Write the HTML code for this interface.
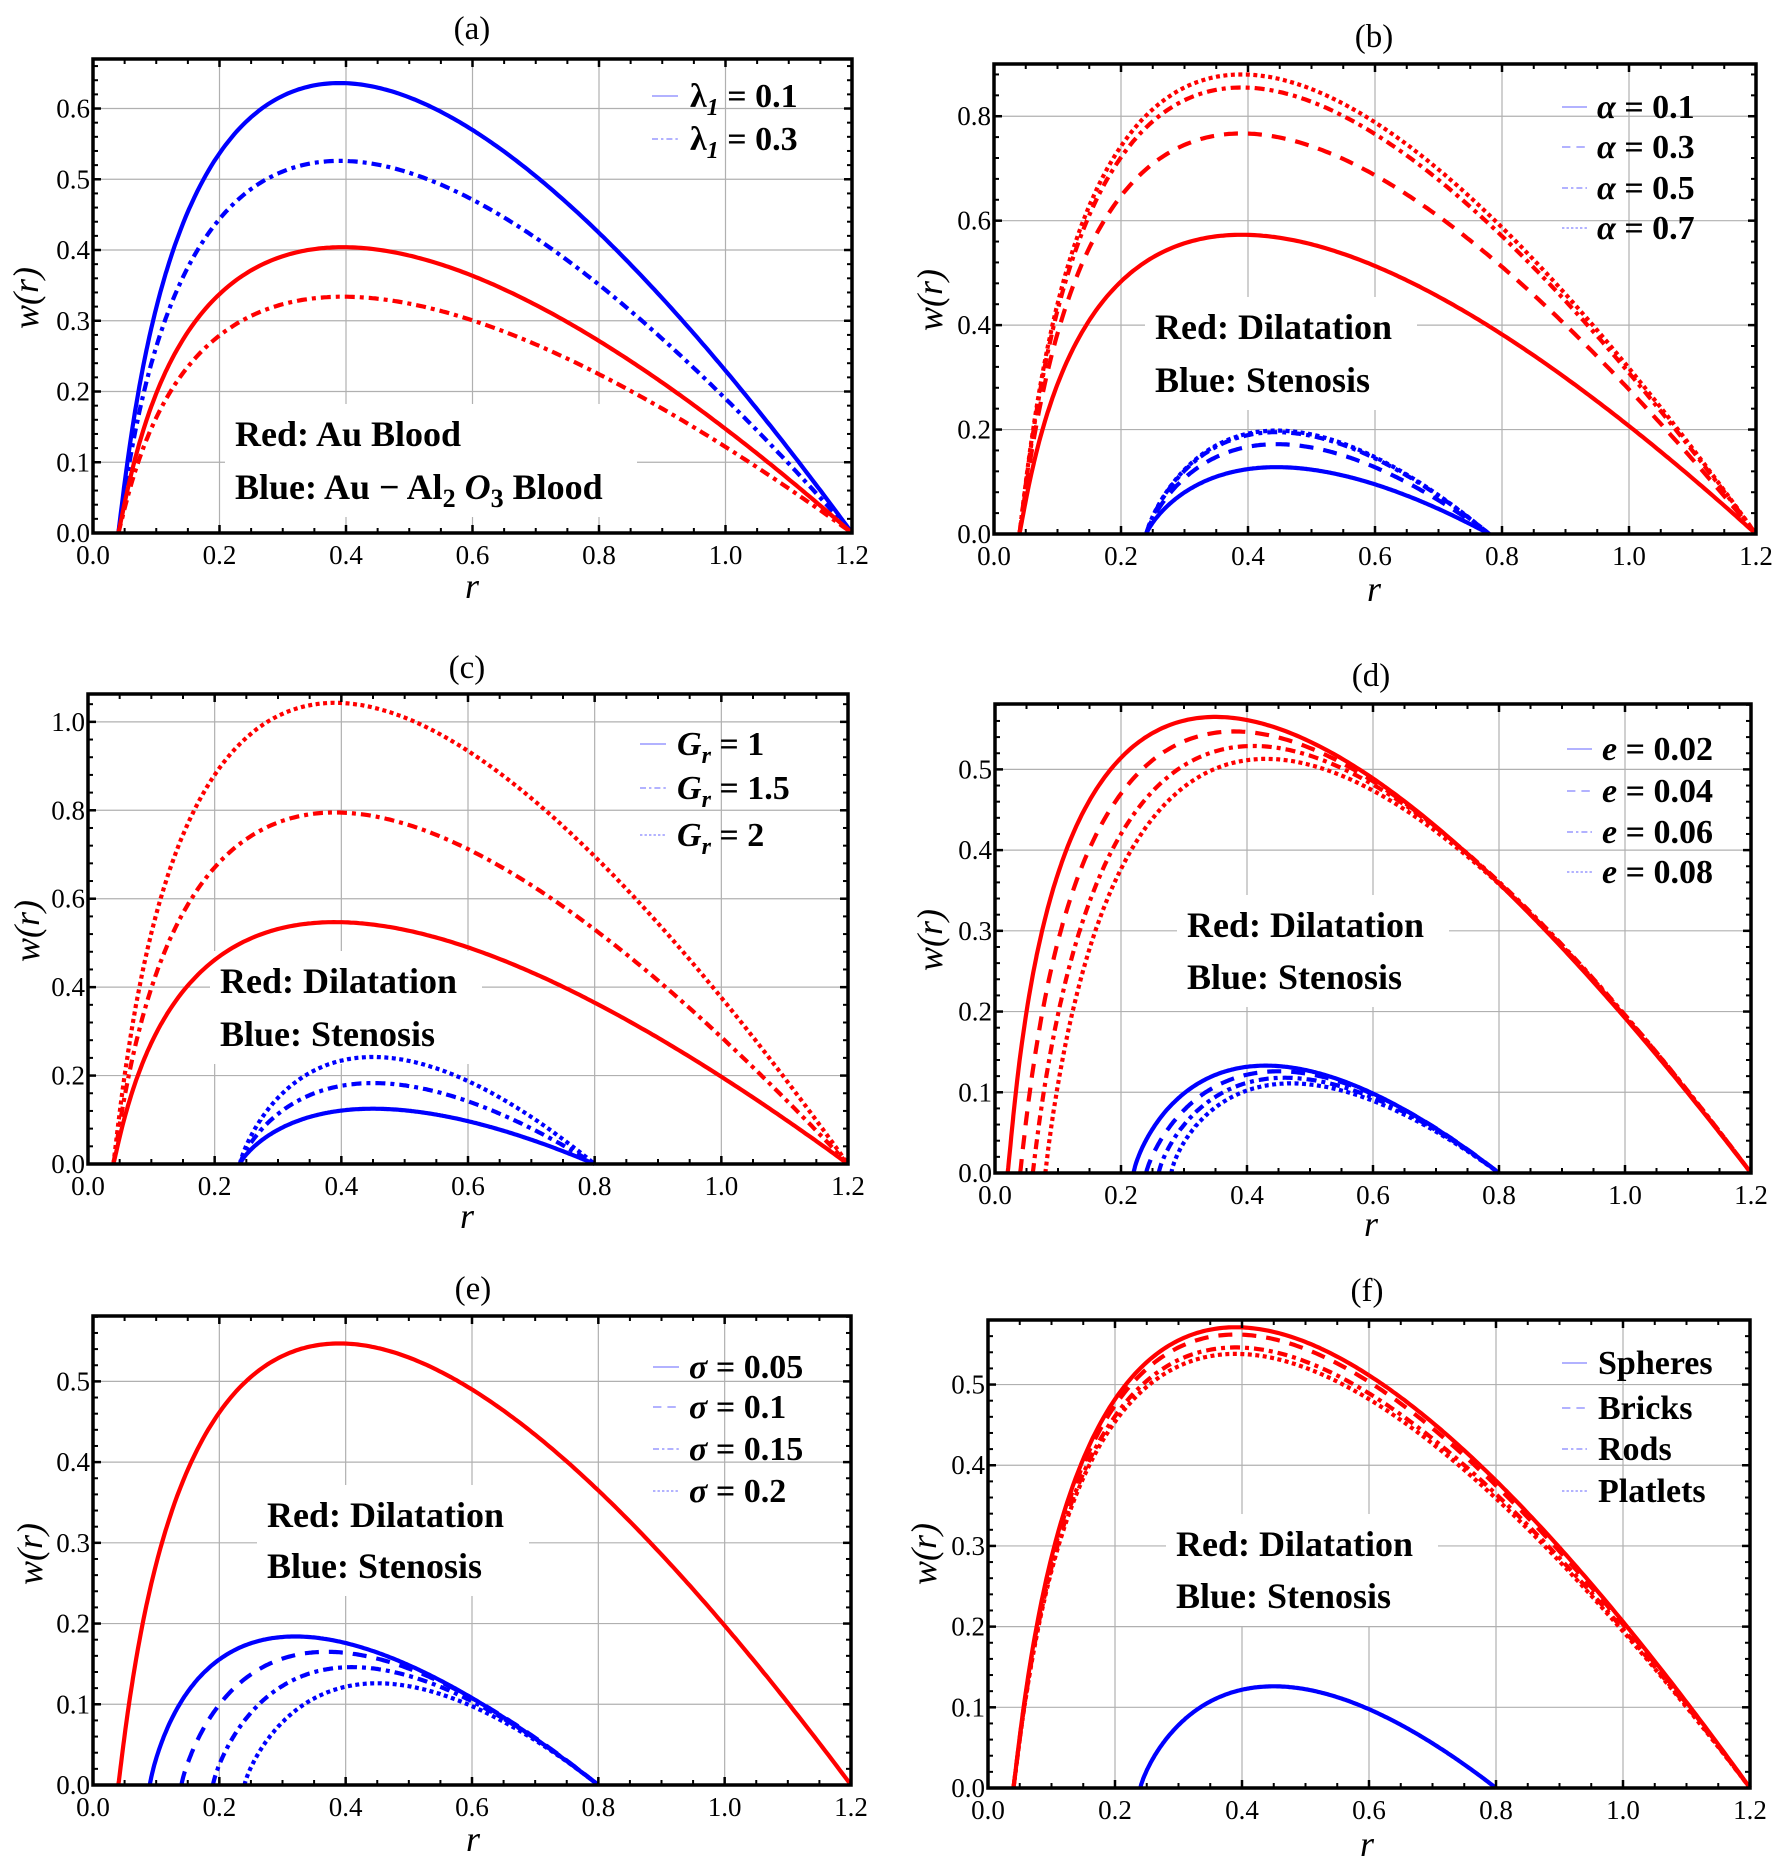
<!DOCTYPE html>
<html><head><meta charset="utf-8"><style>
html,body{margin:0;padding:0;background:#fff;}
svg{display:block;}
svg text{font-family:"Liberation Serif","DejaVu Serif",serif;}
</style></head><body>
<svg id="s" width="1773" height="1866" viewBox="0 0 1773 1866" xmlns="http://www.w3.org/2000/svg" font-family="'Liberation Serif', 'DejaVu Serif', serif"></svg>
<script>
const NS="http://www.w3.org/2000/svg";
const svg=document.getElementById('s');
function el(tag,attrs,parent,txt){if(typeof parent==='string'){txt=parent;parent=null;}const e=document.createElementNS(NS,tag);for(const k in attrs)e.setAttribute(k,attrs[k]);if(tag==='text')e.setAttribute('font-family',"'Liberation Serif', serif");if(txt!==undefined)e.textContent=txt;(parent||svg).appendChild(e);return e;}
const DASH={solid:null,dashed:"14,10",dotdash:"10,5,4,5",dotted:"4,3.5"};
const RED="#ff0000",BLUE="#0000ff";
function curve(r0,r1,P,rp){const q=rp*Math.log(rp/r0)/(r1-rp);const h=r=>Math.pow(Math.max(Math.log(r/r0),0),q)*(r1-r);const hp=h(rp);
 const pts=[];const N=260;for(let i=0;i<=N;i++){const r=r0+(r1-r0)*i/N;pts.push([r,P*h(r)/hp]);}
 const extra=[];for(let i=1;i<20;i++){const r=r0+(r1-r0)*0.004*i*i/20;extra.push([r,P*h(r)/hp]);}
 return [pts[0]].concat(extra).concat(pts.slice(1)).sort((a,b)=>a[0]-b[0]);}
function panel(p){
 const {L,R,T,B,ymax,yt}=p;
 const X=x=>L+(R-L)*x/1.2, Y=y=>B-(B-T)*y/ymax;
 for(let x=0.2;x<1.19;x+=0.2)el('line',{x1:X(x),x2:X(x),y1:T,y2:B,stroke:"#b0b0b0","stroke-width":1.2});
 for(const y of yt){if(y>0)el('line',{x1:L,x2:R,y1:Y(y),y2:Y(y),stroke:"#b0b0b0","stroke-width":1.2});}
 if(p.lab){const l=p.lab;el('rect',{x:l.x-10,y:l.y1-30,width:l.w+30,height:l.y2-l.y1+60,fill:"#fff"});}
 const cp=el('clipPath',{id:"c"+p.id});el('rect',{x:L-3,y:T,width:R-L+6,height:B-T+3},cp);
 const g=el('g',{"clip-path":"url(#c"+p.id+")"});
 for(const c of p.curves){const pts=curve(c[0],c[1],c[2],c[3]);
  const d="M"+pts.map(q=>X(q[0]).toFixed(1)+","+Y(q[1]).toFixed(1)).join("L");
  const a={d:d,fill:"none",stroke:c[4],"stroke-width":4.2};if(DASH[c[5]])a["stroke-dasharray"]=DASH[c[5]];el('path',a,g);}
 el('rect',{x:L,y:T,width:R-L,height:B-T,fill:"none",stroke:"#000","stroke-width":3.5});
 for(let i=0;i<=24;i++){const x=X(i*0.05);const maj=i%4==0;const len=maj?8:5;
  el('line',{x1:x,x2:x,y1:B,y2:B-len,stroke:"#000","stroke-width":maj?2.5:2});el('line',{x1:x,x2:x,y1:T,y2:T+len,stroke:"#000","stroke-width":maj?2.5:2});}
 const step=yt[1]-yt[0];const ms=step/5;
 for(let y=0;y<=ymax+1e-9;y+=ms){const yy=Y(y);const maj=Math.abs(y/step-Math.round(y/step))<1e-6;const len=maj?8:5;
  el('line',{x1:L,x2:L+len,y1:yy,y2:yy,stroke:"#000","stroke-width":maj?2.5:2});el('line',{x1:R,x2:R-len,y1:yy,y2:yy,stroke:"#000","stroke-width":maj?2.5:2});}
 for(let i=0;i<=6;i++){el('text',{x:X(i*0.2),y:B+31,"text-anchor":"middle","font-size":27},null,(i*0.2).toFixed(1));}
 for(const y of yt){el('text',{x:L-3,y:Y(y)+9,"text-anchor":"end","font-size":27},null,y.toFixed(1));}
 el('text',{x:p.title[0],y:p.title[1]+11,"text-anchor":"middle","font-size":33},null,p.tt);
 el('text',{x:p.rl[0],y:p.rl[1]+11,"text-anchor":"middle","font-size":36,"font-style":"italic"},null,"r");
 el('text',{x:p.yl[0]+11,y:p.yl[1],"text-anchor":"middle","font-size":36,"font-style":"italic",transform:"rotate(-90 "+(p.yl[0]+11)+" "+p.yl[1]+")"},null,"w(r)");
 p.leg.rows.forEach((row,i)=>{const y=p.leg.ys[i];
  const a={x1:p.leg.s0,x2:p.leg.s1,y1:y,y2:y,stroke:"#9999ff","stroke-width":1.5};const st=["solid","dashed","dotdash","dotted"][p.leg.st[i]];if(DASH[st])a["stroke-dasharray"]=DASH[st].split(",").map(v=>v*0.6).join(",");
  el('line',a);
  const t=el('text',{x:p.leg.x,y:y+11,"font-size":34,"font-weight":"bold"});t.innerHTML=row;});
 if(p.lab){const l=p.lab;const t1=el('text',{x:l.x,y:l.y1+12,"font-size":36,"font-weight":"bold"});t1.innerHTML=l.t1;
  const t2=el('text',{x:l.x,y:l.y2+12,"font-size":36,"font-weight":"bold"});t2.innerHTML=l.t2;}
}
const rd=(P,st,r0=0.04,rp=0.39)=>[r0,1.2,P,rp,RED,st];
const bl=(P,st,r0=0.24,r1=0.8,rp=0.45)=>[r0,r1,P,rp,BLUE,st];
const DIL={t1:"Red: Dilatation",t2:"Blue: Stenosis",w:242};
panel({id:"a",L:93,R:852,T:59,B:533,ymax:0.67,yt:[0,0.1,0.2,0.3,0.4,0.5,0.6],tt:"(a)",title:[472,28],rl:[472,587],yl:[27,298],
 curves:[[0.04,1.2,0.636,0.39,BLUE,"solid"],[0.04,1.2,0.526,0.39,BLUE,"dotdash"],[0.04,1.2,0.404,0.395,RED,"solid"],[0.04,1.2,0.334,0.395,RED,"dotdash"]],
 leg:{x:690,s0:652,s1:678,ys:[96,139],st:[0,2],rows:["λ<tspan font-style='italic' font-size='24' dy='8'>1</tspan><tspan dy='-8'> = 0.1</tspan>","λ<tspan font-style='italic' font-size='24' dy='8'>1</tspan><tspan dy='-8'> = 0.3</tspan>"]},
 lab:{x:235,y1:434,y2:487,w:382,t1:"Red: Au Blood",t2:"Blue: Au − Al<tspan font-size='26' dy='8'>2</tspan><tspan dy='-8'> </tspan><tspan font-style='italic'>O</tspan><tspan font-size='26' dy='8'>3</tspan><tspan dy='-8'> Blood</tspan>"}});
panel({id:"b",L:994,R:1756,T:64,B:534,ymax:0.9,yt:[0,0.2,0.4,0.6,0.8],tt:"(b)",title:[1374,36],rl:[1374,590],yl:[931,300],
 curves:[rd(0.573,"solid"),rd(0.767,"dashed"),rd(0.855,"dotdash"),rd(0.880,"dotted"),bl(0.128,"solid",0.24,0.78,0.445),bl(0.172,"dashed",0.24,0.78,0.445),bl(0.195,"dotdash",0.24,0.78,0.445),bl(0.198,"dotted",0.24,0.78,0.445)],
 leg:{x:1597,s0:1562,s1:1587,ys:[107,147,188,228],st:[0,1,2,3],rows:["<tspan font-style='italic'>α</tspan>  = 0.1","<tspan font-style='italic'>α</tspan>  = 0.3","<tspan font-style='italic'>α</tspan>  = 0.5","<tspan font-style='italic'>α</tspan>  = 0.7"]},
 lab:Object.assign({x:1155,y1:327,y2:380},DIL)});
const G=v=>"<tspan font-style='italic'>G</tspan><tspan font-style='italic' font-size='24' dy='8'>r</tspan><tspan dy='-8'> = "+v+"</tspan>";
panel({id:"c",L:88,R:848,T:694,B:1164,ymax:1.063,yt:[0,0.2,0.4,0.6,0.8,1.0],tt:"(c)",title:[467,667],rl:[467,1217],yl:[28,931],
 curves:[rd(0.547,"solid"),rd(0.795,"dotdash"),rd(1.043,"dotted"),bl(0.125,"solid"),bl(0.183,"dotdash"),bl(0.242,"dotted")],
 leg:{x:677,s0:640,s1:666,ys:[744,788,835],st:[0,2,3],rows:[G("1"),G("1.5"),G("2")]},
 lab:Object.assign({x:220,y1:981,y2:1034},DIL)});
const E=v=>"<tspan font-style='italic'>e</tspan> = "+v;
panel({id:"d",L:995,R:1751,T:704,B:1173,ymax:0.581,yt:[0,0.1,0.2,0.3,0.4,0.5],tt:"(d)",title:[1371,675],rl:[1371,1225],yl:[931,940],
 curves:[rd(0.565,"solid",0.02,0.35),rd(0.547,"dashed",0.04,0.38),rd(0.529,"dotdash",0.06,0.41),rd(0.513,"dotted",0.08,0.43),
  bl(0.133,"solid",0.22,0.8,0.43),bl(0.126,"dashed",0.24,0.8,0.45),bl(0.118,"dotdash",0.26,0.8,0.46),bl(0.111,"dotted",0.28,0.8,0.47)],
 leg:{x:1602,s0:1567,s1:1592,ys:[749,791,832,872],st:[0,1,2,3],rows:[E("0.02"),E("0.04"),E("0.06"),E("0.08")]},
 lab:Object.assign({x:1187,y1:925,y2:977},DIL)});
const S=v=>"<tspan font-style='italic'>σ</tspan>  = "+v;
panel({id:"e",L:93,R:851,T:1316,B:1785,ymax:0.581,yt:[0,0.1,0.2,0.3,0.4,0.5],tt:"(e)",title:[473,1288],rl:[473,1840],yl:[31,1554],
 curves:[rd(0.547,"solid"),bl(0.184,"solid",0.09,0.8,0.32),bl(0.165,"dashed",0.14,0.8,0.37),bl(0.146,"dotdash",0.19,0.8,0.41),bl(0.126,"dotted",0.24,0.8,0.45)],
 leg:{x:689,s0:653,s1:679,ys:[1367,1407,1449,1491],st:[0,1,2,3],rows:[S("0.05"),S("0.1"),S("0.15"),S("0.2")]},
 lab:Object.assign({x:267,y1:1515,y2:1566},DIL)});
panel({id:"f",L:988,R:1750,T:1320,B:1788,ymax:0.58,yt:[0,0.1,0.2,0.3,0.4,0.5],tt:"(f)",title:[1367,1290],rl:[1367,1845],yl:[925,1554],
 curves:[rd(0.571,"solid"),rd(0.562,"dashed"),rd(0.546,"dotdash"),rd(0.538,"dotted"),bl(0.126,"solid")],
 leg:{x:1598,s0:1562,s1:1587,ys:[1363,1408,1449,1491],st:[0,1,2,3],rows:["Spheres","Bricks","Rods","Platlets"]},
 lab:Object.assign({x:1176,y1:1544,y2:1596},DIL)});
</script>
</body></html>
